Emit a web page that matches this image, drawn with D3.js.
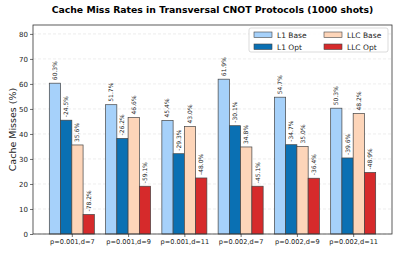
<!DOCTYPE html>
<html>
<head>
<meta charset="utf-8">
<script src="https://cdn.jsdelivr.net/npm/d3@7"></script>
<style>
  body { margin: 0; background: #fff; }
  text { font-family: "DejaVu Sans", sans-serif; }
</style>
</head>
<body>
<div class="content"></div>
<script>
// chart data
var configs = ["p=0.001,d=7", "p=0.001,d=9", "p=0.001,d=11", "p=0.002,d=7", "p=0.002,d=9", "p=0.002,d=11"];
var l1Base = [60.3, 51.7, 45.4, 61.9, 54.7, 50.3];
var l1Opt = [45.5, 38.2, 32.1, 43.3, 35.7, 30.4];
var llcBase = [35.6, 46.6, 43.0, 34.8, 35.0, 48.2];
var llcOpt = [7.8, 19.1, 22.4, 19.1, 22.3, 24.6];
var l1Reduction = [-24.5, -26.2, -29.3, -30.1, -34.7, -39.6];
var llcReduction = [-78.2, -59.1, -48.0, -45.1, -36.4, -48.9];
var yTicks = [0, 10, 20, 30, 40, 50, 60, 70, 80];

var W = 397, H = 253;
var margin = {top: 25, right: 5, bottom: 19, left: 33},
    width = W - margin.left - margin.right,
    height = H - margin.top - margin.bottom;

var series = [
  {name: "L1 Base", values: l1Base, labels: l1Base.map(function(v){ return v.toFixed(1) + "%"; }), color: "#a6d1fa", off: -1.5},
  {name: "L1 Opt", values: l1Opt, labels: l1Reduction.map(function(v){ return v.toFixed(1) + "%"; }), color: "#0a70b3", off: -0.5},
  {name: "LLC Base", values: llcBase, labels: llcBase.map(function(v){ return v.toFixed(1) + "%"; }), color: "#fdd5b9", off: 0.5},
  {name: "LLC Opt", values: llcOpt, labels: llcReduction.map(function(v){ return v.toFixed(1) + "%"; }), color: "#d62a2b", off: 1.5}
];

var svg = d3.select(".content").append("svg")
    .attr("width", W)
    .attr("height", H);

var g = svg.append("g")
    .attr("transform", "translate(" + margin.left + "," + margin.top + ")");

var barW = 0.2;
var x = d3.scaleLinear()
  .domain([-0.69, configs.length - 1 + 0.69])
  .range([0, width]);

var yMax = d3.max(l1Base) * 1.35;
var y = d3.scaleLinear()
  .domain([0, yMax])
  .range([height, 0]);

// grid
g.selectAll(".grid")
  .data(yTicks)
  .enter()
  .append("line")
    .attr("x1", 0).attr("x2", width)
    .attr("y1", function(d){ return y(d); })
    .attr("y2", function(d){ return y(d); })
    .style("stroke", "#e0e0e0")
    .style("stroke-width", 0.6)
    .style("stroke-dasharray", "3,2");

// bars
series.forEach(function(s, k) {
  g.selectAll(".bar" + k)
    .data(s.values)
    .enter()
    .append("rect")
      .attr("class", "bar" + k)
      .attr("x", function(d, i){ return x(i + (s.off - 0.5) * barW); })
      .attr("y", function(d){ return y(d); })
      .attr("width", x(barW) - x(0))
      .attr("height", function(d){ return y(0) - y(d); })
      .style("fill", s.color)
      .style("stroke", "#444")
      .style("stroke-width", 0.7);

  g.selectAll(".lab" + k)
    .data(s.values)
    .enter()
    .append("text")
      .attr("class", "lab" + k)
      .attr("transform", function(d, i){
        return "translate(" + (x(i + s.off * barW) + 2) + "," + (y(d) - 3) + ") rotate(-90)";
      })
      .style("font-size", "6px")
      .style("fill", "#222")
      .text(function(d, i){ return s.labels[i]; });
});

// axes
var yAxis = g.append("g")
  .call(d3.axisLeft(y).tickValues(yTicks).tickSize(3).tickPadding(2));
yAxis.selectAll("text").style("font-size", "7px").style("fill", "#222");

var xAxis = g.append("g")
  .attr("transform", "translate(0," + height + ")")
  .call(d3.axisBottom(x).tickValues(d3.range(configs.length)).tickFormat(function(d){ return configs[d]; }).tickSize(3).tickPadding(2));
xAxis.selectAll("text").style("font-size", "6.6px").style("fill", "#222");
[yAxis, xAxis].forEach(function(a) {
  a.select(".domain").remove();
  a.selectAll("line").style("stroke", "#333").style("stroke-width", 0.7);
});

// frame
g.append("rect")
  .attr("width", width).attr("height", height)
  .style("fill", "none")
  .style("stroke", "#333")
  .style("stroke-width", 0.8);

// labels
svg.append("text")
  .attr("x", margin.left + width / 2)
  .attr("y", 13)
  .attr("text-anchor", "middle")
  .style("font-size", "9.3px")
  .style("font-weight", "bold")
  .text("Cache Miss Rates in Transversal CNOT Protocols (1000 shots)");

svg.append("text")
  .attr("transform", "translate(15.5," + (margin.top + height / 2) + ") rotate(-90)")
  .attr("text-anchor", "middle")
  .style("font-size", "9.5px")
  .style("fill", "#222")
  .text("Cache Misses (%)");

// legend
var legend = g.append("g").attr("transform", "translate(" + (width - 143) + ",3)");
legend.append("rect")
  .attr("width", 139).attr("height", 24).attr("rx", 2)
  .style("fill", "#fff").style("fill-opacity", 0.85)
  .style("stroke", "#ccc").style("stroke-width", 0.7);
series.forEach(function(s, i) {
  var col = Math.floor(i / 2), row = i % 2;
  var lg = legend.append("g")
    .attr("transform", "translate(" + (5 + col * 70) + "," + (4 + row * 12) + ")");
  lg.append("rect")
    .attr("width", 18).attr("height", 5.5)
    .style("fill", s.color).style("stroke", "#444").style("stroke-width", 0.6);
  lg.append("text")
    .attr("x", 23).attr("y", 5.5)
    .style("font-size", "7.5px").style("fill", "#222")
    .text(s.name);
});
</script>
</body>
</html>
